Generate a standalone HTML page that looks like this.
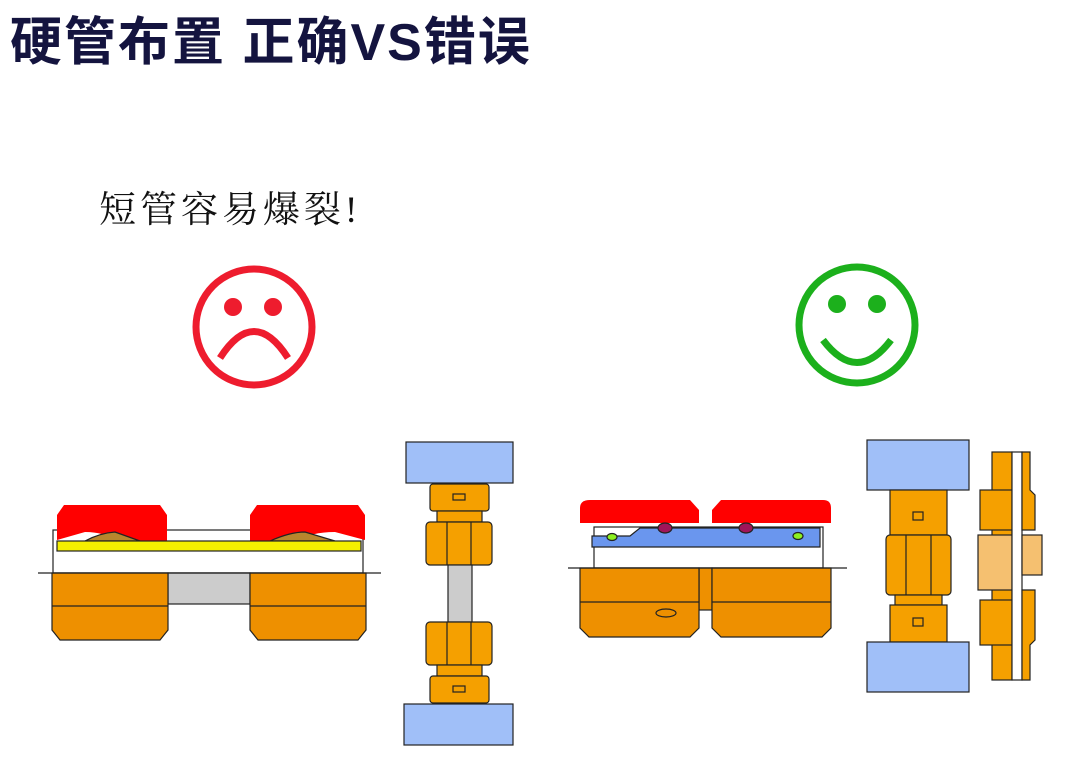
<!DOCTYPE html>
<html><head><meta charset="utf-8"><style>
body{margin:0;background:#fff;width:1080px;height:768px;overflow:hidden;position:relative}
.t{position:absolute;left:10px;top:0px;font:bold 52px "Liberation Sans","Noto Sans CJK SC",sans-serif;color:#14143f;white-space:nowrap;letter-spacing:2px}
.s{position:absolute;left:99px;top:179px;font:37px "Liberation Serif","Noto Serif CJK SC",serif;color:#111;white-space:nowrap;letter-spacing:4px}
svg{position:absolute;left:0;top:0}
</style></head><body>
<div class="t">硬管布置 正确VS错误</div>
<div class="s">短管容易爆裂!</div>
<svg width="1080" height="768" viewBox="0 0 1080 768">
<g stroke="#222" stroke-width="1.2">
<circle cx="254" cy="327" r="58" fill="none" stroke="#ee1c2e" stroke-width="7"/>
<circle cx="233" cy="307" r="9" fill="#ee1c2e" stroke="none"/>
<circle cx="273" cy="307" r="9" fill="#ee1c2e" stroke="none"/>
<path d="M220 358 Q254 305 288 358" fill="none" stroke="#ee1c2e" stroke-width="7"/>
<circle cx="857" cy="325" r="58" fill="none" stroke="#1cb01c" stroke-width="7"/>
<circle cx="837" cy="304" r="9" fill="#1cb01c" stroke="none"/>
<circle cx="877" cy="304" r="9" fill="#1cb01c" stroke="none"/>
<path d="M823 340 Q857 385 891 340" fill="none" stroke="#1cb01c" stroke-width="7"/>

<rect x="53" y="530" width="310" height="43" fill="#fff"/>
<rect x="168" y="573" width="82" height="31" fill="#ccc"/>
<path d="M52 573 H168 V630 L160 640 H60 L52 630Z" fill="#ee9000"/>
<path d="M52 606 H168" fill="none"/>
<path d="M250 573 H366 V630 L358 640 H258 L250 630Z" fill="#ee9000"/>
<path d="M250 606 H366" fill="none"/>
<path d="M57 515 L64 505 H160 L167 515 V541 H115 Q105 532 85 532 L57 540Z" fill="#f00" stroke="none"/>
<path d="M250 515 L257 505 H358 L365 515 V540 L335 532 Q310 532 300 541 H250Z" fill="#f00" stroke="none"/>
<path d="M85 541 Q100 533 115 532 L140 541Z M270 541 Q290 532 305 532 L335 541Z" fill="#b8862d"/>
<rect x="57" y="541" width="304" height="10" fill="#f5f000"/>
<line x1="38" y1="573" x2="381" y2="573"/>

<rect x="406" y="442" width="107" height="41" fill="#a0bff8"/>
<rect x="430" y="484" width="59" height="27" rx="3" fill="#f5a000"/>
<rect x="437" y="511" width="45" height="11" fill="#f5a000"/>
<rect x="426" y="522" width="66" height="43" rx="4" fill="#f5a000"/>
<path d="M447 522 V565 M471 522 V565" fill="none"/>
<rect x="448" y="565" width="24" height="57" fill="#ccc"/>
<rect x="426" y="622" width="66" height="43" rx="4" fill="#f5a000"/>
<path d="M447 622 V665 M471 622 V665" fill="none"/>
<rect x="437" y="665" width="45" height="11" fill="#f5a000"/>
<rect x="430" y="676" width="59" height="27" rx="3" fill="#f5a000"/>
<rect x="404" y="704" width="109" height="41" fill="#a0bff8"/>
<rect x="453" y="494" width="12" height="6" fill="none"/>
<rect x="453" y="686" width="12" height="6" fill="none"/>

<rect x="594" y="527" width="229" height="41" fill="#fff"/>
<rect x="699" y="568" width="13" height="42" fill="#ee9000"/>
<path d="M580 568 H699 V628 L690 637 H589 L580 628Z" fill="#ee9000"/>
<path d="M580 602 H699" fill="none"/>
<ellipse cx="666" cy="613" rx="10" ry="4" fill="none"/>
<path d="M712 568 H831 V628 L822 637 H721 L712 628Z" fill="#ee9000"/>
<path d="M712 602 H831" fill="none"/>
<path d="M580 508 Q580 500 590 500 H690 L699 510 V523 H580Z" fill="#f00" stroke="none"/>
<path d="M712 510 L721 500 H823 Q831 500 831 508 V523 H712Z" fill="#f00" stroke="none"/>
<path d="M592 536 H630 L640 528 H820 V547 H592Z" fill="#6a96ee"/>
<ellipse cx="665" cy="528" rx="7" ry="5" fill="#a0155a"/>
<ellipse cx="746" cy="528" rx="7" ry="5" fill="#a0155a"/>
<ellipse cx="612" cy="537" rx="5" ry="3.5" fill="#8cf020"/>
<ellipse cx="798" cy="536" rx="5" ry="3.5" fill="#8cf020"/>
<line x1="568" y1="568" x2="847" y2="568"/>

<rect x="867" y="440" width="102" height="50" fill="#a0bff8"/>
<rect x="890" y="490" width="57" height="45" fill="#f5a000"/>
<rect x="886" y="535" width="65" height="60" rx="4" fill="#f5a000"/>
<path d="M906 535 V595 M931 535 V595" fill="none"/>
<rect x="895" y="595" width="47" height="10" fill="#f5a000"/>
<rect x="890" y="605" width="57" height="37" fill="#f5a000"/>
<rect x="867" y="642" width="102" height="50" fill="#a0bff8"/>
<rect x="913" y="512" width="10" height="8" fill="none"/>
<rect x="913" y="618" width="10" height="8" fill="none"/>

<rect x="992" y="452" width="20" height="228" fill="#f5a000"/>
<rect x="980" y="490" width="32" height="40" fill="#f5a000"/>
<rect x="978" y="535" width="34" height="55" fill="#f5c070"/>
<rect x="980" y="600" width="32" height="45" fill="#f5a000"/>
<rect x="1012" y="452" width="10" height="228" fill="#fff"/>
<path d="M1022 452 H1030 V490 L1035 495 V530 H1022Z" fill="#f5a000"/>
<rect x="1022" y="535" width="20" height="40" fill="#f5c070"/>
<path d="M1022 590 H1035 V640 L1030 645 V680 H1022Z" fill="#f5a000"/>
</g>
</svg>
</body></html>
